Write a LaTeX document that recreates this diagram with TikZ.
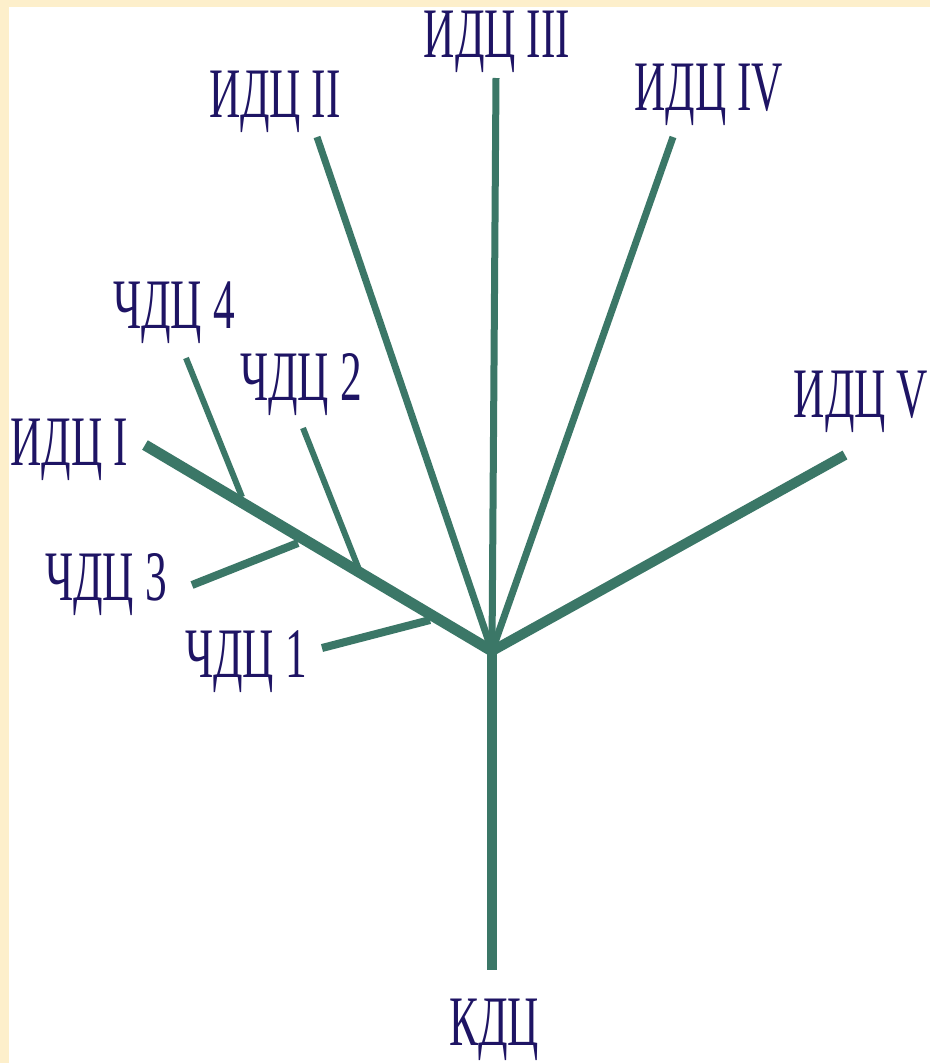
\documentclass[tikz,border=0pt]{standalone}
\usepackage{fontspec}
\newfontfamily\labfont[FakeStretch=0.61]{Liberation Serif}
\definecolor{beige}{HTML}{FDEFCB}
\definecolor{branch}{HTML}{3B7767}
\definecolor{ink}{HTML}{1E1464}
\begin{document}
\begin{tikzpicture}[x=1pt,y=-1pt,
  lab/.style={font=\labfont\fontsize{71}{71}\selectfont, text=ink, inner sep=0pt, anchor=base},
  br/.style={draw=branch, line cap=butt}]
\useasboundingbox (0,0) rectangle (930,1063);
\fill[beige] (0,0) rectangle (930,1063);
\fill[white] (9,7) rectangle (930,1063);
% coordinates
\coordinate (hub) at (492,651);
\coordinate (eK) at (492,970);
\coordinate (e1) at (145,445);
\coordinate (e2) at (317,137);
\coordinate (e3) at (496,78);
\coordinate (e4) at (673,137);
\coordinate (e5) at (845,455);
\coordinate (b4) at (242,497);
\coordinate (t4) at (186,358);
\coordinate (b2) at (360,572);
\coordinate (t2) at (303,428);
\coordinate (b3) at (298,543);
\coordinate (t3) at (192,585);
\coordinate (b1) at (430,620);
\coordinate (t1) at (322,648);
% main branches
\draw[br, line width=10pt] (hub) -- (eK);
\draw[br, line width=11pt] (hub) -- (e1);
\draw[br, line width=7pt] (hub) -- (e2);
\draw[br, line width=7pt] (hub) -- (e3);
\draw[br, line width=7pt] (hub) -- (e4);
\draw[br, line width=10pt] (hub) -- (e5);
% side branches
\draw[br, line width=6pt] (b4) -- (t4);
\draw[br, line width=6pt] (b2) -- (t2);
\draw[br, line width=8pt] (b3) -- (t3);
\draw[br, line width=8pt] (b1) -- (t1);
% labels
\node[lab] (lK) at (494,1045) {КДЦ};
\node[lab] (l1) at (69,465) {ИДЦ I};
\node[lab] (l2) at (275,117) {ИДЦ II};
\node[lab] (l3) at (497,57) {ИДЦ III};
\node[lab] (l4) at (709,110) {ИДЦ IV};
\node[lab] (l5) at (861,417) {ИДЦ V};
\node[lab] (c4) at (174,328) {ЧДЦ 4};
\node[lab] (c2) at (301,400) {ЧДЦ 2};
\node[lab] (c3) at (106,600) {ЧДЦ 3};
\node[lab] (c1) at (246,677) {ЧДЦ 1};
\end{tikzpicture}
\end{document}
